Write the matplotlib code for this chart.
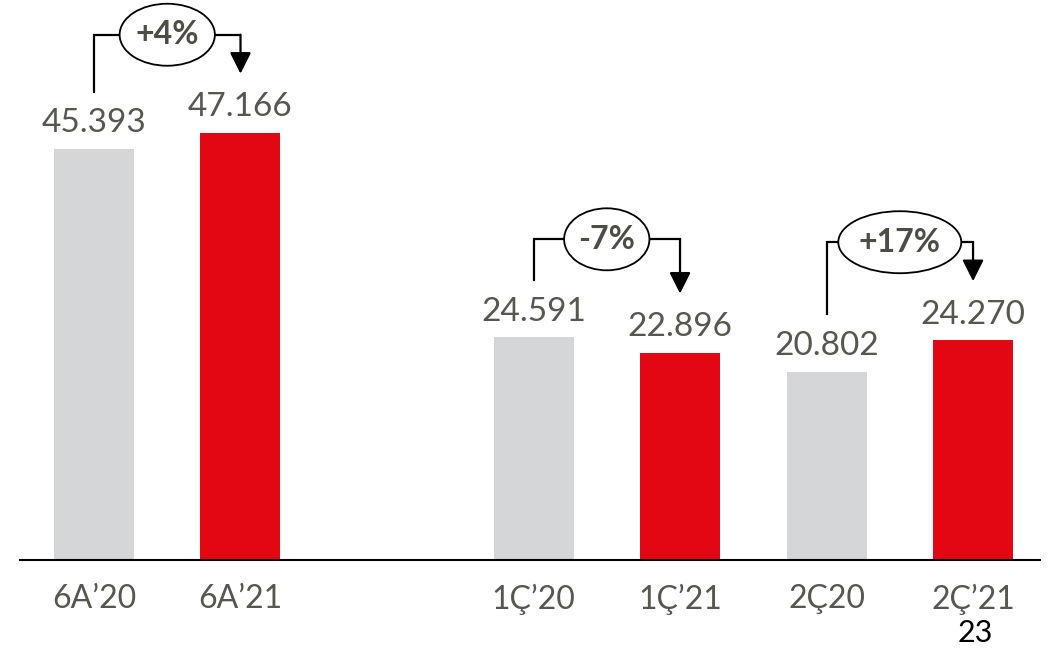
"""Bar chart: 6-month and quarterly comparison with change brackets."""
import matplotlib

matplotlib.use("Agg")
import matplotlib.pyplot as plt
from matplotlib.patches import Ellipse

GREY = "#D5D6D8"
RED = "#E30613"
TEXT = "#57574F"

plt.rcParams.update({
    "font.family": ["Lato", "DejaVu Sans"],
    "font.size": 24,
})

categories = ["6A\u201920", "6A\u201921", "1\u00c7\u201920", "1\u00c7\u201921", "2\u00c720", "2\u00c7\u201921"]
positions = [0, 1, 3, 4, 5, 6]
values = [45393, 47166, 24591, 22896, 20802, 24270]
bar_colors = [GREY, RED, GREY, RED, GREY, RED]
pairs = [(0, 1), (2, 3), (4, 5)]
page_number = "23"


def fmt(v):
    return f"{v:,}".replace(",", ".")


def main():
    fig = plt.figure(figsize=(10.53, 6.5), dpi=100)
    ax = fig.add_axes([20 / 1053, 90 / 650, 1020 / 1053, 560 / 650])
    ax.bar(positions, values, width=0.546, color=bar_colors, zorder=2)
    ax.set_xlim(-0.505, 6.457)
    ax.set_ylim(0, 61800)

    for x, v in zip(positions, values):
        ax.text(x, v + 1800, fmt(v), ha="center", va="baseline",
                fontsize=24, color=TEXT)

    renderer = fig.canvas.get_renderer()
    # pixels per data unit
    (px0, py0), (px1, py1) = ax.transData.transform([(0, 0), (1, 1000)])
    sx, sy = px1 - px0, (py1 - py0) / 1000

    for i, j in pairs:
        xl, xr = positions[i], positions[j]
        top = max(values[i], values[j]) + 10800
        start = values[i] + 6300
        tip = values[j] + 6500
        ax.plot([xl, xl, xr], [start, top, top], color="black", lw=1.6,
                solid_joinstyle="miter", zorder=3)
        ax.annotate("", xy=(xr, tip), xytext=(xr, top),
                    arrowprops=dict(arrowstyle="-|>,head_length=1.0,head_width=0.5",
                                    mutation_scale=13, color="black", lw=1.6,
                                    shrinkA=0, shrinkB=0), zorder=3)
        pct = round((values[j] / values[i] - 1) * 100)
        xm = (xl + xr) / 2
        t = ax.text(xm, top, f"{pct:+d}%", ha="center", va="center",
                    fontsize=23, fontweight="bold", color="#4D4D45", zorder=5)
        w = t.get_window_extent(renderer).width * 1.5
        ax.add_patch(Ellipse((xm, top), w / sx, 62 / sy, fc="white",
                             ec="black", lw=1.3, zorder=4))

    for side in ("left", "right", "top"):
        ax.spines[side].set_visible(False)
    ax.spines["bottom"].set_linewidth(1.5)
    ax.spines["bottom"].set_color("black")
    ax.set_yticks([])
    ax.set_xticks(positions)
    ax.set_xticklabels(categories, color=TEXT, fontsize=23)
    ax.tick_params(axis="x", length=0, pad=17)

    fig.text(975 / 1053, 1 - 633 / 650, page_number, ha="center", va="center",
             fontsize=22, color="black")

    fig.savefig("out.png", dpi=100)
    plt.close(fig)


if __name__ == "__main__":
    main()
